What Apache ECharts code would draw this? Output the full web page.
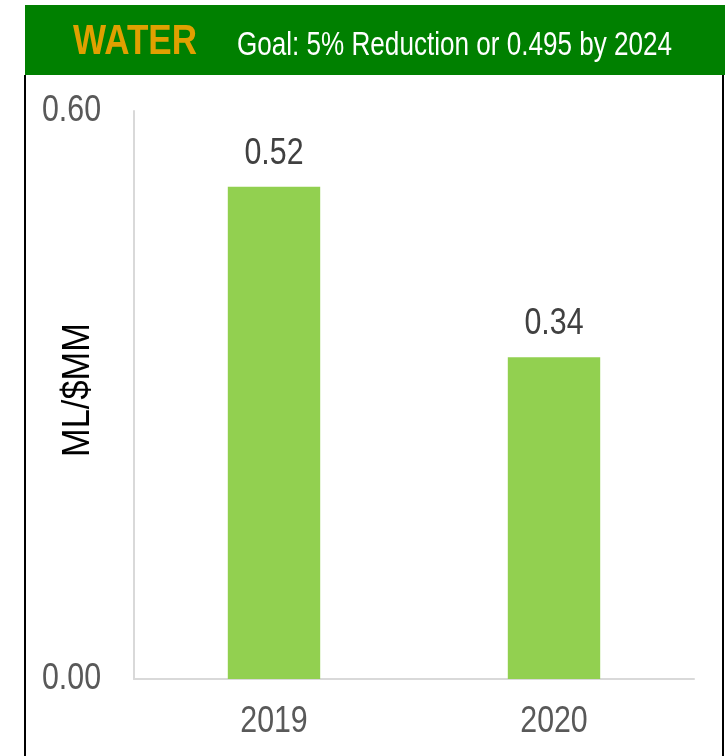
<!DOCTYPE html>
<html><head><meta charset="utf-8">
<script src="https://cdn.jsdelivr.net/npm/echarts@6/dist/echarts.min.js"></script>
<style>html,body{margin:0;padding:0;background:#fff}#c{width:725px;height:756px}</style>
</head><body><div id="c"></div>
<script>
const categories = ['2019', '2020'];
const values = [0.52, 0.34];
const yTicks = [0, 0.6];
const titleText = 'WATER';
const goalText = 'Goal: 5% Reduction or 0.495 by 2024';
const yAxisName = 'ML/$MM';

const FONT = '"Liberation Sans",Arial,sans-serif';
const NARROW = 0.82;
const cv = document.createElement('canvas').getContext('2d');
function widthOf(text, font) { cv.font = font; return cv.measureText(text).width; }

const chart = echarts.init(document.getElementById('c'));
chart.setOption({
  animation: false,
  grid: { left: 134, right: 31, top: 111, bottom: 77, outerBoundsMode: 'none', containLabel: false },
  xAxis: {
    type: 'category', data: categories,
    axisLine: { lineStyle: { color: '#d9d9d9', width: 2 } },
    axisTick: { show: false },
    axisLabel: { show: false }
  },
  yAxis: {
    type: 'value', min: yTicks[0], max: yTicks[1], interval: 0.6,
    axisLine: { show: true, lineStyle: { color: '#d9d9d9', width: 2 } },
    axisTick: { show: false },
    splitLine: { show: false },
    axisLabel: { show: false }
  },
  series: [{
    type: 'bar', data: values, barWidth: '33%',
    itemStyle: { color: '#92D050' },
    label: { show: false }
  }]
});

// Texts drawn in a condensed style (reference uses a narrow font)
const g = [
  { type: 'rect', shape: { x: 25, y: 5, width: 700, height: 70 }, style: { fill: '#008000' }, z: 0 },
  { type: 'rect', shape: { x: 24, y: 75, width: 2, height: 681 }, style: { fill: '#000' } },
  { type: 'rect', shape: { x: 722, y: 75, width: 2, height: 681 }, style: { fill: '#000' } }
];
const wFont = 'bold 43px ' + FONT;
g.push({ type: 'text', x: 73, y: 42, scaleX: 124 / widthOf(titleText, wFont), z: 10,
  style: { text: titleText, fill: '#E0A000', font: wFont, textAlign: 'left', textVerticalAlign: 'middle' } });
const gFont = '34px ' + FONT;
g.push({ type: 'text', x: 237, y: 46, scaleX: 435 / widthOf(goalText, gFont), z: 10,
  style: { text: goalText, fill: '#ffffff', font: gFont, textAlign: 'left', textVerticalAlign: 'middle' } });

const lblFont = '37px ' + FONT;
// y tick labels
yTicks.forEach(v => {
  const p = chart.convertToPixel({ gridIndex: 0 }, [0, v]);
  g.push({ type: 'text', x: 101, y: p[1], scaleX: NARROW, z: 10,
    style: { text: v.toFixed(2), fill: '#595959', font: lblFont, textAlign: 'right', textVerticalAlign: 'middle' } });
});
// x category labels + data labels
categories.forEach((c, i) => {
  const p0 = chart.convertToPixel({ gridIndex: 0 }, [i, 0]);
  const p1 = chart.convertToPixel({ gridIndex: 0 }, [i, values[i]]);
  g.push({ type: 'text', x: p0[0], y: 722, scaleX: NARROW, z: 10,
    style: { text: c, fill: '#595959', font: lblFont, textAlign: 'center', textVerticalAlign: 'middle' } });
  g.push({ type: 'text', x: p1[0], y: p1[1] - 33, scaleX: NARROW, z: 10,
    style: { text: values[i].toFixed(2), fill: '#404040', font: lblFont, textAlign: 'center', textVerticalAlign: 'middle' } });
});
// y axis name
const nFont = '38px ' + FONT;
g.push({ type: 'text', x: 79, y: 390, rotation: Math.PI / 2, scaleX: 134 / widthOf(yAxisName, nFont), z: 10,
  style: { text: yAxisName, fill: '#000000', font: nFont, textAlign: 'center', textVerticalAlign: 'middle' } });

chart.setOption({ graphic: g });
</script></body></html>
